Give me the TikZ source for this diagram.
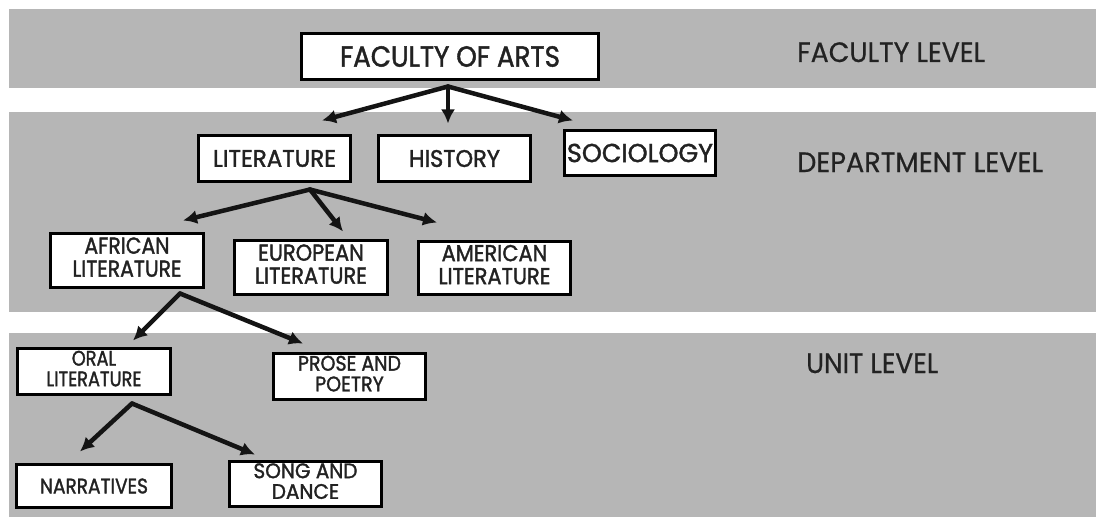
\documentclass[tikz,border=0pt]{standalone}
\usepackage{fontspec}
\setmainfont{Poppins}[FakeBold=1.6]
\newfontfamily\capfont{Poppins}[FakeBold=0.6]
\usepackage{graphicx}
\usetikzlibrary{arrows.meta,calc}

\definecolor{band}{RGB}{182,182,182}
\definecolor{ink}{RGB}{34,34,34}

% set a label and squeeze it horizontally to a given width (in pt)
\newsavebox\lblbox
\newcommand\fitw[2]{\sbox\lblbox{#2}\scalebox{\fpeval{#1/(\the\wd\lblbox)}}[1]{\usebox\lblbox}}
\newcommand\twoline[2]{\begin{tabular}{@{}c@{}}#1\\#2\end{tabular}}

\tikzset{
  unitbox/.style 2 args={draw=black, line width=3pt, fill=white, inner sep=0pt,
    text=ink, minimum width=#1, minimum height=#2},
  arr/.style={draw=black!92, line width=4.5pt, line cap=round,
    -{Latex[length=14pt,width=14pt]}},
  lvl/.style={text=ink, inner sep=0pt, anchor=base west,
    font=\capfont\fontsize{28}{30}\selectfont},
}

\begin{document}
\begin{tikzpicture}[x=1pt,y=-1pt]
\useasboundingbox (0,0) rectangle (1096,519);

% grey level bands
\fill[band] (9,9) rectangle (1096,88);
\fill[band] (9,112) rectangle (1096,312);
\fill[band] (9,333) rectangle (1096,517);

% faculty
\node[unitbox={297pt}{46pt}] (fa) at (450,56.5)
  {\fontsize{29}{30}\selectfont\fitw{220}{FACULTY OF ARTS}};

% departments
\node[unitbox={152pt}{46pt}] (lit) at (274.5,158.5)
  {\fontsize{24}{25}\selectfont\fitw{123}{LITERATURE}};
\node[unitbox={152pt}{46pt}] (hist) at (454.5,158.5)
  {\fontsize{24}{25}\selectfont\fitw{91}{HISTORY}};
\node[unitbox={151pt}{45pt}] (soc) at (640,153)
  {\fontsize{26}{27}\selectfont\fitw{146}{SOCIOLOGY}};

% literature sections
\node[unitbox={153pt}{54pt}] (afr) at (127,260.5)
  {\fontsize{23}{23}\selectfont\fitw{109}{\twoline{AFRICAN}{LITERATURE}}};
\node[unitbox={153pt}{54pt}] (euro) at (311,267.5)
  {\fontsize{23}{23}\selectfont\fitw{112}{\twoline{EUROPEAN}{LITERATURE}}};
\node[unitbox={152pt}{53pt}] (amer) at (494.5,268)
  {\fontsize{23}{23}\selectfont\fitw{112}{\twoline{AMERICAN}{LITERATURE}}};

% units
\node[unitbox={153pt}{46pt}] (oral) at (94,371.5)
  {\fontsize{21}{20}\selectfont\fitw{95}{\twoline{ORAL}{LITERATURE}}};
\node[unitbox={152pt}{46pt}] (prose) at (349.5,376.5)
  {\fontsize{21}{19.5}\selectfont\fitw{103}{\twoline{PROSE AND}{POETRY}}};
\node[unitbox={155pt}{43pt}] (narr) at (94,486)
  {\fontsize{21}{20}\selectfont\fitw{108}{NARRATIVES}};
\node[unitbox={152pt}{45pt}] (song) at (305.5,484)
  {\fontsize{21}{19.5}\selectfont\fitw{104}{\twoline{SONG AND}{DANCE}}};

% level captions
\node[lvl] (lv-fac) at (797,62) {\fitw{188}{FACULTY LEVEL}};
\node[lvl] (lv-dep) at (797,172) {\fitw{246}{DEPARTMENT LEVEL}};
\node[lvl] (lv-unit) at (806,373) {\fitw{132}{UNIT LEVEL}};

% branching points below each parent
\coordinate (fa-o) at ($(fa.south)+(-2,5.5)$);
\coordinate (lit-o) at ($(lit.south)+(35.5,6.5)$);
\coordinate (afr-o) at ($(afr.south)+(53,4.5)$);
\coordinate (oral-o) at ($(oral.south)+(38,7.5)$);

% hierarchy arrows
\draw[arr] (fa-o) -- ($(lit.north)+(47.5,-13.5)$);
\draw[arr] (fa-o) -- ($(hist.north)+(-6.5,-10.5)$);
\draw[arr] (fa-o) -- ($(soc.north)+(-67,-8.5)$);

\draw[arr] (lit-o) -- ($(afr.north)+(56,-11.5)$);
\draw[arr] (lit-o) -- ($(euro.north)+(32,-7.5)$);
\draw[arr] (lit-o) -- ($(amer.north)+(-57.5,-17.5)$);

\draw[arr] (afr-o) -- ($(oral.north)+(39,-6.5)$);
\draw[arr] (afr-o) -- ($(prose.north)+(-46.5,-8.5)$);

\draw[arr] (oral-o) -- ($(narr.north)+(-14,-11.5)$);
\draw[arr] (oral-o) -- ($(song.north)+(-50.5,-5.5)$);
\end{tikzpicture}
\end{document}
